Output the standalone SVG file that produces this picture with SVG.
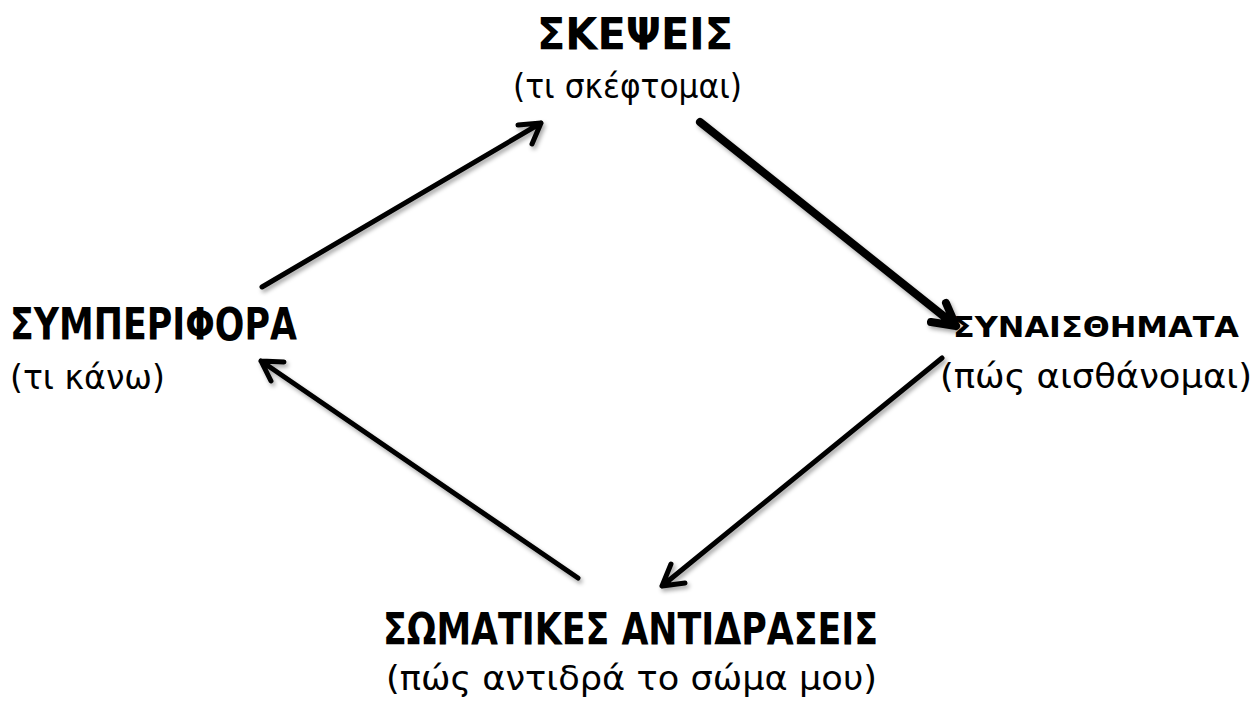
<svg xmlns="http://www.w3.org/2000/svg" width="1260" height="704" viewBox="0 0 1260 704">
<style>
.h{font-family:"DejaVu Sans","Noto Sans",sans-serif;font-weight:bold;fill:#000}
.s{font-family:"DejaVu Sans","Noto Sans",sans-serif;fill:#000}
.c{fill:none;stroke:#000;stroke-linecap:round;stroke-linejoin:round}
</style>
<defs>
<filter id="sh" x="-20%" y="-20%" width="140%" height="140%">
<feDropShadow dx="2" dy="3" stdDeviation="2" flood-color="#000" flood-opacity="0.35"/>
</filter>
</defs>
<rect width="1260" height="704" fill="#fff"/>
<g id="node-skepseis">
<text class="h" x="537" y="50" font-size="45" textLength="196" lengthAdjust="spacingAndGlyphs">ΣΚΕΨΕΙΣ</text>
<text class="s" x="513" y="98" font-size="34" textLength="229" lengthAdjust="spacingAndGlyphs">(τι σκέφτομαι)</text>
</g>
<g id="node-symperifora">
<text class="h" x="10" y="340" font-size="45" textLength="287" lengthAdjust="spacingAndGlyphs">ΣΥΜΠΕΡΙΦΟΡΑ</text>
<text class="s" x="10" y="389" font-size="34" textLength="155" lengthAdjust="spacingAndGlyphs">(τι κάνω)</text>
</g>
<g id="node-synaisthimata">
<text class="h" x="953" y="337" font-size="29" textLength="286" lengthAdjust="spacingAndGlyphs">ΣΥΝΑΙΣΘΗΜΑΤΑ</text>
<text class="s" x="940" y="388" font-size="34" textLength="312" lengthAdjust="spacingAndGlyphs">(πώς αισθάνομαι)</text>
</g>
<g id="node-somatikes">
<text class="h" x="383" y="645" font-size="45" textLength="495" lengthAdjust="spacingAndGlyphs">ΣΩΜΑΤΙΚΕΣ ΑΝΤΙΔΡΑΣΕΙΣ</text>
<text class="s" x="386" y="690" font-size="34" textLength="491" lengthAdjust="spacingAndGlyphs">(πώς αντιδρά το σώμα μου)</text>
</g>
<g id="connectors" filter="url(#sh)">
<path class="c" stroke-width="5" d="M262 287 L541 123 M518 125 L541 123 L532 144"/>
<path class="c" stroke-width="8" d="M700 122 L956 326 M946 303 L956 326 L931 322"/>
<path class="c" stroke-width="5" d="M942 358 L662 586 M671 564 L662 586 L685 583"/>
<path class="c" stroke-width="5" d="M578 578 L261 361 M284 362 L261 361 L271 381"/>
</g>
</svg>
